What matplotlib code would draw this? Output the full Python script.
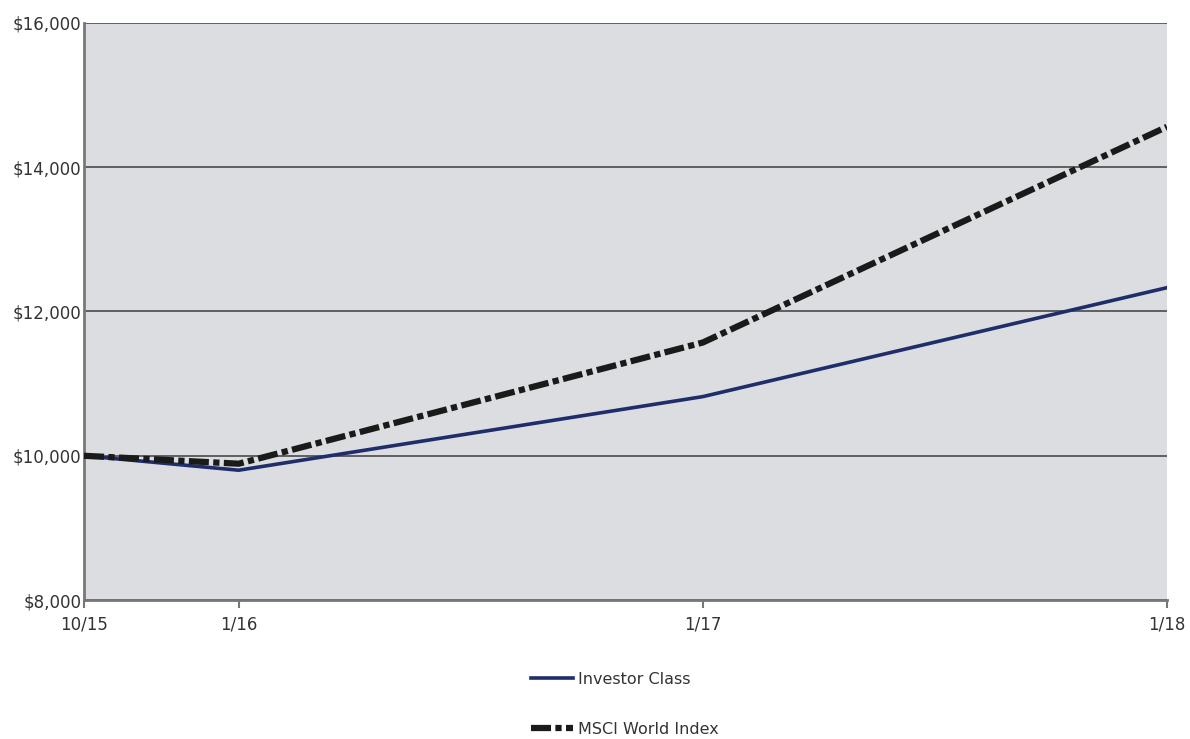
import matplotlib
matplotlib.use('Agg')
from matplotlib import pyplot as plt
from matplotlib.ticker import FuncFormatter

# chart data
dates = ['10/15', '1/16', '1/17', '1/18']
x_pos = [0, 1, 4, 7]
investor_class = [10000, 9800, 10820, 12330]
msci_world = [10000, 9890, 11570, 14560]

fig = plt.figure(figsize=(11.9, 7.39), dpi=100)
ax = fig.add_axes([0.0706, 0.188, 0.910, 0.781])
ax.set_facecolor('#dcdde0')

ax.plot(x_pos, investor_class, color='#1f2d6b', lw=2.6, label='Investor Class', zorder=3)
ax.plot(x_pos, msci_world, color='#1a1a1a', lw=4.5, dashes=(3.2, 0.7, 1, 0.7),
        label='MSCI World Index', zorder=4)

ax.set_xlim(0, 7)
ax.set_ylim(8000, 16000)
ax.set_yticks([8000, 10000, 12000, 14000, 16000])
ax.yaxis.set_major_formatter(FuncFormatter(lambda v, p: '${:,.0f}'.format(v)))
ax.set_xticks(x_pos)
ax.set_xticklabels(dates)
ax.grid(axis='y', color='#555555', lw=1.3, zorder=1)

for s in ['top', 'right']:
    ax.spines[s].set_visible(False)
for s in ['left', 'bottom']:
    ax.spines[s].set_color('#777777')
    ax.spines[s].set_linewidth(2)
ax.tick_params(axis='x', length=6, width=1.5, color='#777777', labelsize=12, labelcolor='#333333', pad=5)
ax.tick_params(axis='y', length=0, labelsize=12, labelcolor='#333333', pad=2)

fig.legend(loc='center', bbox_to_anchor=(0.525, 0.047), ncol=1, frameon=False,
           fontsize=11.5, handlelength=2.6, labelspacing=2.2, handletextpad=0.3,
           labelcolor='#333333')

fig.savefig('out.png', dpi=100)
